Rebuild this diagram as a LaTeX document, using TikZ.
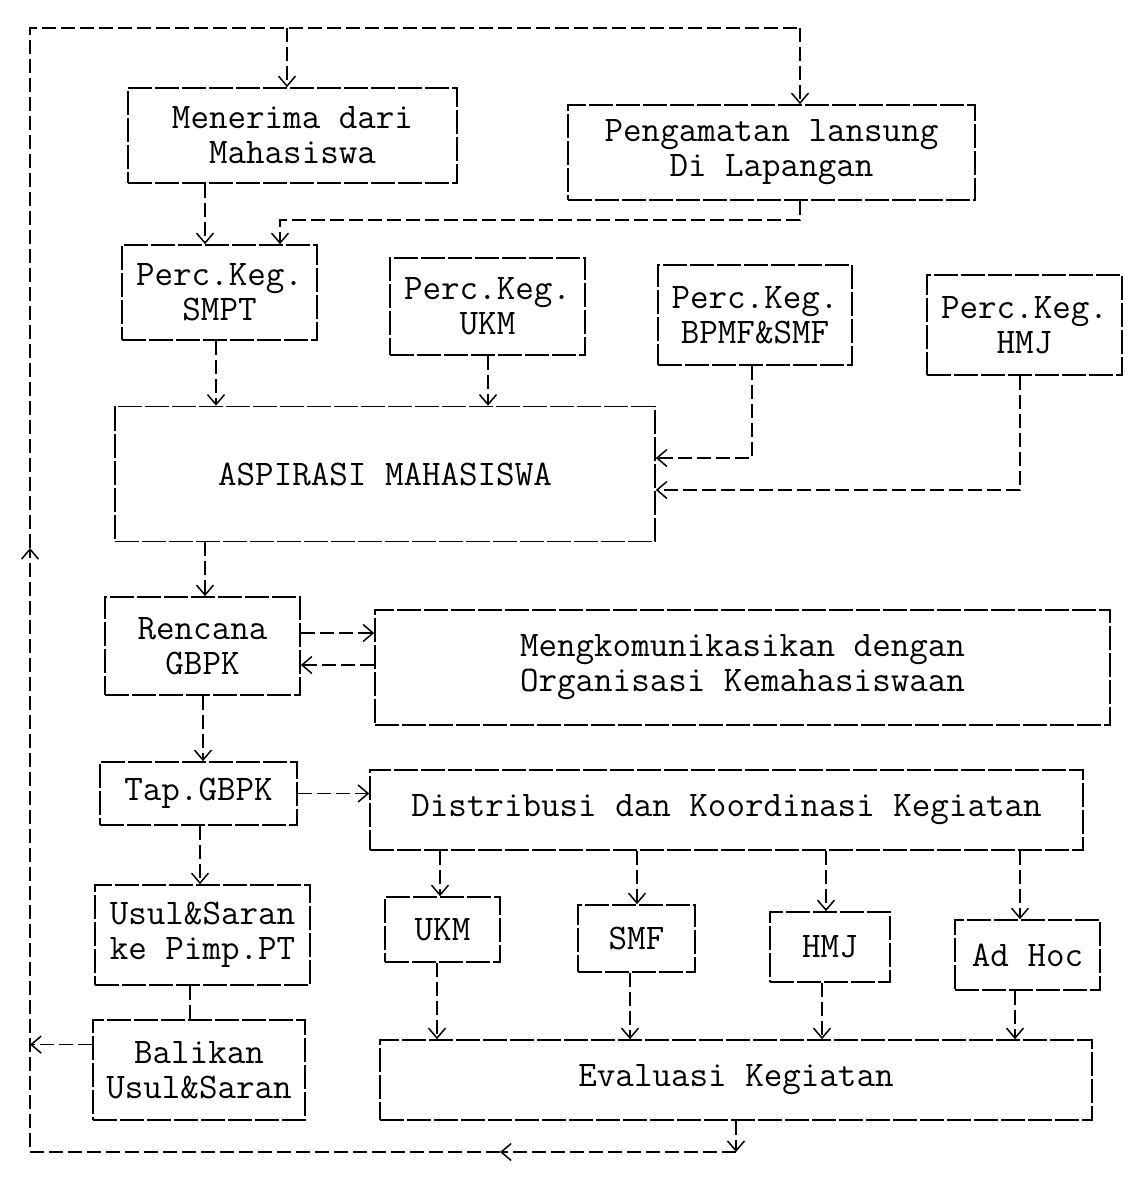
\documentclass[tikz,border=0pt]{standalone}
\usepackage{fontspec}
\usetikzlibrary{arrows.meta,calc}
\tikzset{
 box/.style={draw, line width=1.6pt, dash pattern=on 24pt off 3pt, align=center, inner sep=0pt,
   font=\ttfamily\fontsize{36}{35}\selectfont},
 conn/.style={line width=1.5pt, dash pattern=on 14pt off 5pt},
 arr/.style={conn, -{Straight Barb[length=10pt,width=17pt,line width=1.5pt]}},
}
\begin{document}
\begin{tikzpicture}[x=1pt,y=-1pt]
\useasboundingbox (0,0) rectangle (1131,1196);
% boxes
\node[box, minimum width=329pt, minimum height=95pt] (menerima) at (292.5,135.5) {Menerima dari\\Mahasiswa};
\node[box, minimum width=407pt, minimum height=95pt] (pengamatan) at (771.5,152.5) {Pengamatan lansung\\Di Lapangan};
\node[box, minimum width=195pt, minimum height=95pt] (smpt) at (219.5,292.5) {Perc.Keg.\\SMPT};
\node[box, minimum width=195pt, minimum height=97pt] (pukm) at (487.5,306.5) {Perc.Keg.\\UKM};
\node[box, minimum width=194pt, minimum height=100pt] (pbpmf) at (755,315) {Perc.Keg.\\BPMF\&SMF};
\node[box, minimum width=195pt, minimum height=100pt] (phmj) at (1024.5,325) {Perc.Keg.\\HMJ};
\node[box, minimum width=540pt, minimum height=135pt] (aspirasi) at (385,474) {ASPIRASI MAHASISWA};
\node[box, minimum width=195pt, minimum height=98pt] (rencana) at (202.5,646) {Rencana\\GBPK};
\node[box, minimum width=735pt, minimum height=115pt] (mengko) at (742.5,667.5) {Mengkomunikasikan dengan\\Organisasi Kemahasiswaan};
\node[box, minimum width=197pt, minimum height=63pt] (tap) at (198.5,793.5) {Tap.GBPK};
\node[box, minimum width=713pt, minimum height=80pt] (distribusi) at (726.5,810) {Distribusi dan Koordinasi Kegiatan};
\node[box, minimum width=215pt, minimum height=100pt] (usul) at (202.5,935) {Usul\&Saran\\ke Pimp.PT};
\node[box, minimum width=212pt, minimum height=100pt] (balikan) at (199,1070) {Balikan\\Usul\&Saran};
\node[box, minimum width=115pt, minimum height=65pt] (ukm) at (442.5,929.5) {UKM};
\node[box, minimum width=117pt, minimum height=67pt] (smf) at (636.5,938.5) {SMF};
\node[box, minimum width=120pt, minimum height=70pt] (hmj) at (830,947) {HMJ};
\node[box, minimum width=145pt, minimum height=70pt] (adhoc) at (1027.5,955) {Ad Hoc};
\node[box, minimum width=712pt, minimum height=80pt] (evaluasi) at (736,1080) {Evaluasi Kegiatan};
% loop coordinates
\coordinate (tl) at (30,28);
\coordinate (tj) at (287,28);
\coordinate (tr) at (800,28);
\coordinate (lm) at (30,548);
\coordinate (bl) at (30,1152);
\coordinate (bm) at (500,1152);
\coordinate (br) at (736,1152);
% outer feedback loop
\draw[arr] (evaluasi.south) -- (br);
\draw[arr] (br) -- (bm);
\draw[arr] (bm) -- (bl) -- (lm);
\draw[conn] (lm) -- (tl) -- (tr);
\draw[arr] (tr) -- (tr |- pengamatan.north);
\draw[arr] (tj) -- (tj |- menerima.north);
\coordinate (bw) at ($(balikan.north west)!0.25!(balikan.south west)$);
\draw[arr] (bw) -- (bw -| bl);
% top part
\coordinate (c1) at (205,0);
\draw[arr] (menerima.south -| c1) -- (smpt.north -| c1);
\coordinate (c2) at (800,220);
\coordinate (c3) at (280,220);
\draw[arr] (pengamatan.south -| c2) -- (c2) -- (c3) -- (smpt.north -| c3);
\coordinate (c4) at (216,0);
\draw[arr] (smpt.south -| c4) -- (aspirasi.north -| c4);
\coordinate (c5) at (488,0);
\draw[arr] (pukm.south -| c5) -- (aspirasi.north -| c5);
\coordinate (c6) at (752,458);
\draw[arr] (pbpmf.south -| c6) -- (c6) -- (c6 -| aspirasi.east);
\coordinate (c7) at (1020,490);
\draw[arr] (phmj.south -| c7) -- (c7) -- (c7 -| aspirasi.east);
% middle
\coordinate (c8) at (205,0);
\draw[arr] (aspirasi.south -| c8) -- (rencana.north -| c8);
\coordinate (c9) at (0,633);
\draw[arr] (rencana.east |- c9) -- (mengko.west |- c9);
\coordinate (c10) at (0,665);
\draw[arr] (mengko.west |- c10) -- (rencana.east |- c10);
\coordinate (c11) at (203,0);
\draw[arr] (rencana.south -| c11) -- (tap.north -| c11);
\draw[arr] (tap.east) -- (distribusi.west |- tap.east);
\coordinate (c12) at (200,0);
\draw[arr] (tap.south -| c12) -- (usul.north -| c12);
\coordinate (c13) at (190,0);
\draw[conn] (usul.south -| c13) -- (balikan.north -| c13);
% distribution
\coordinate (d1) at (440,0);
\coordinate (d2) at (637,0);
\coordinate (d3) at (826,0);
\coordinate (d4) at (1020,0);
\draw[arr] (distribusi.south -| d1) -- (ukm.north -| d1);
\draw[arr] (distribusi.south -| d2) -- (smf.north -| d2);
\draw[arr] (distribusi.south -| d3) -- (hmj.north -| d3);
\draw[arr] (distribusi.south -| d4) -- (adhoc.north -| d4);
\coordinate (e1) at (437,0);
\coordinate (e2) at (630,0);
\coordinate (e3) at (822,0);
\coordinate (e4) at (1015,0);
\draw[arr] (ukm.south -| e1) -- (evaluasi.north -| e1);
\draw[arr] (smf.south -| e2) -- (evaluasi.north -| e2);
\draw[arr] (hmj.south -| e3) -- (evaluasi.north -| e3);
\draw[arr] (adhoc.south -| e4) -- (evaluasi.north -| e4);
\end{tikzpicture}
\end{document}
